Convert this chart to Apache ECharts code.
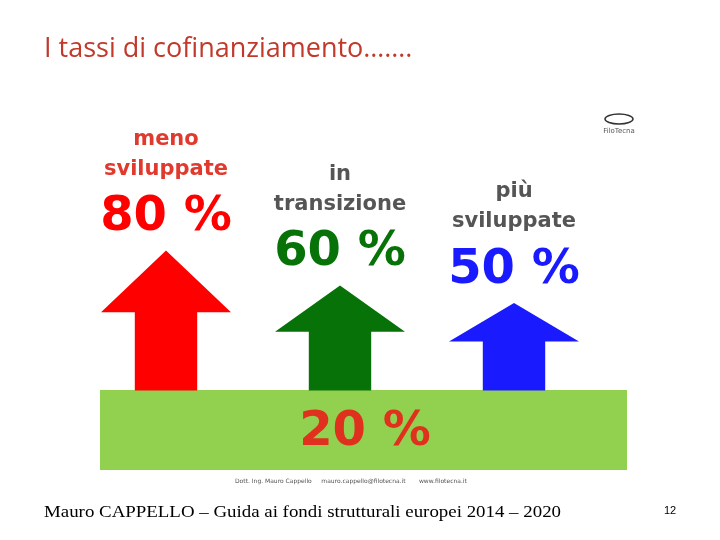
<!DOCTYPE html><html><head><meta charset="utf-8"><script src="https://cdn.jsdelivr.net/npm/echarts@6/dist/echarts.min.js"></script>
<style>html,body{margin:0;background:#fff}#c{width:720px;height:540px}</style></head><body><div id="c"></div><script>
const categories=['meno\nsviluppate','in\ntransizione','più\nsviluppate'];
const rates=[80,60,50];
const rateLabels=['80 %','60 %','50 %'];
const baseRate='20 %';
const colors=['#ff0000','#077207','#1a1aff'];
const chart=echarts.init(document.getElementById('c'));
chart.setOption({
 animation:false,
 grid:{left:79,right:119,top:100,bottom:154},
 xAxis:{type:'category',data:categories,show:false},
 yAxis:{type:'value',min:2.6,max:166,show:false},
 graphic:[
  {type:'text',left:44,top:36,style:{text:'I tassi di cofinanziamento…….',fontSize:27,fontFamily:'Open Sans',fill:'#c0392b'}},
  {type:'rect',shape:{x:100,y:390,width:527,height:80},style:{fill:'#92d050'}},
  {type:'text',x:365,y:433,style:{text:baseRate,fontSize:48,fontWeight:'bold',fontFamily:'DejaVu Sans',fill:'#e0301e',align:'center',verticalAlign:'middle'}},
  {type:'text',x:235,y:481,style:{text:'Dott. Ing. Mauro Cappello     mauro.cappello@filotecna.it       www.filotecna.it',fontSize:6,fontFamily:'DejaVu Sans',fill:'#555',verticalAlign:'middle'}},
  {type:'text',x:619,y:128,style:{text:'FiloTecna',fontSize:7,fontFamily:'DejaVu Sans',fill:'#555',align:'center'}},
  {type:'ellipse',shape:{cx:619,cy:119,rx:14,ry:5},style:{stroke:'#333',lineWidth:1.5,fill:null}},
  {type:'text',left:44,top:505,style:{text:'Mauro CAPPELLO – Guida ai fondi strutturali europei 2014 – 2020',fontSize:16,fontFamily:'Liberation Serif',fill:'#000',width:523,overflow:'none'},scaleX:1.18,originX:44},
  {type:'text',left:664,top:505,style:{text:'12',fontSize:11,fontFamily:'Liberation Sans',fill:'#000'}}
 ],
 series:[{type:'pictorialBar',barWidth:130,
  symbol:'path://M50,0 L100,44 L74,44 L74,100 L26,100 L26,44 L0,44 Z',
  symbolSize:[130,'100%'],
  data:rates.map((v,i)=>({value:v,itemStyle:{color:colors[i]},
   label:{show:true,position:'top',distance:0,formatter:()=>'{n|'+categories[i].replace('\n','}\n{n|')+'}\n{p|'+rateLabels[i]+'}',
    rich:{n:{fontSize:21,fontWeight:'bold',fontFamily:'DejaVu Sans',color:i==0?'#e03a2e':'#555',lineHeight:30,align:'center'},
          p:{fontSize:48,fontWeight:'bold',fontFamily:'DejaVu Sans',color:colors[i],lineHeight:66,align:'center'}}}}))
 }]
});
</script></body></html>
